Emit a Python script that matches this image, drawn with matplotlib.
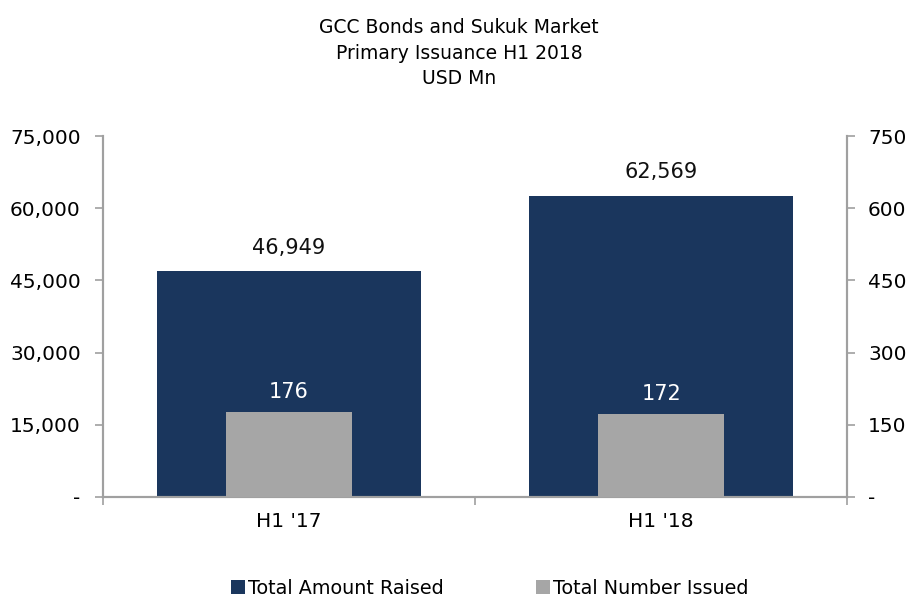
import matplotlib
matplotlib.use("Agg")
import matplotlib.pyplot as plt
from matplotlib.ticker import FuncFormatter

periods = ["H1 '17", "H1 '18"]
amount_raised = [46949, 62569]
number_issued = [176, 172]

navy = "#1a365d"
grey = "#a6a6a6"
spine = "#a0a0a0"

plt.rcParams["font.family"] = ["DejaVu Sans"]

fig = plt.figure(figsize=(9.11, 6.0), dpi=100)
ax = fig.add_axes([0.113, 0.1717, 0.817, 0.6016])
ax2 = ax.twinx()

x = list(range(len(periods)))
ax.bar(x, amount_raised, width=0.71, color=navy, label="Total Amount Raised", zorder=2)
ax2.bar(x, number_issued, width=0.34, color=grey, label="Total Number Issued", zorder=3)

for xi, v in zip(x, amount_raised):
    ax.text(xi, v + 2800, f"{v:,}", ha="center", va="bottom", fontsize=15, color="#111111")
for xi, v in zip(x, number_issued):
    ax2.text(xi, v + 22, f"{v}", ha="center", va="bottom", fontsize=15, color="white")

ax.set_xlim(-0.5, 1.5)
ax.set_ylim(0, 75000)
ax2.set_ylim(0, 750)
ax.set_yticks(range(0, 75001, 15000))
ax2.set_yticks(range(0, 751, 150))

fmt = lambda v, p: "-" if v == 0 else f"{int(v):,}"
ax.yaxis.set_major_formatter(FuncFormatter(fmt))
ax2.yaxis.set_major_formatter(FuncFormatter(fmt))

ax.set_xticks(x)
ax.set_xticklabels(periods)
ax.set_xticks([-0.5, 0.5, 1.5], minor=True)
ax.tick_params(axis="x", which="major", length=0, labelsize=14.5, pad=11)
ax.tick_params(axis="x", which="minor", length=6, color=spine, width=1.2)
ax.tick_params(axis="y", length=6, color=spine, width=1.2, labelsize=14.5, pad=10)
ax2.tick_params(axis="y", length=6, color=spine, width=1.2, labelsize=14.5, pad=9)

for a in (ax, ax2):
    a.spines["top"].set_visible(False)
    for s in ("left", "right", "bottom"):
        a.spines[s].set_color(spine)
        a.spines[s].set_linewidth(1.5)

fig.text(0.504, 0.97, "GCC Bonds and Sukuk Market\nPrimary Issuance H1 2018\nUSD Mn",
         ha="center", va="top", fontsize=13.5, linespacing=1.45)

h1, l1 = ax.get_legend_handles_labels()
h2, l2 = ax2.get_legend_handles_labels()
fig.legend(h1 + h2, l1 + l2, loc="lower center", bbox_to_anchor=(0.538, -0.025), ncol=2,
           frameon=False, fontsize=13.8, handlelength=0.7, handleheight=0.7,
           handletextpad=0.2, columnspacing=4.8)

fig.savefig("out.png", dpi=100)
